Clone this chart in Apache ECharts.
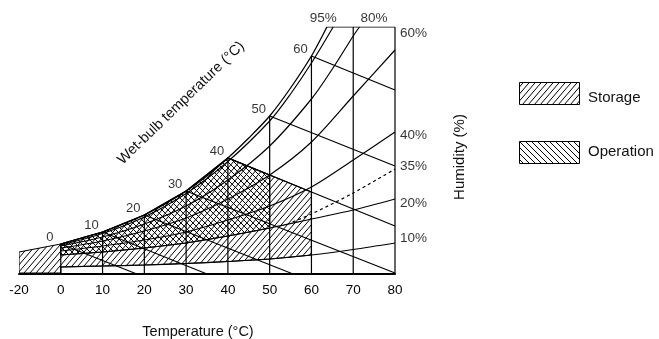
<!DOCTYPE html>
<html><head><meta charset="utf-8">
<script src="https://cdn.jsdelivr.net/npm/echarts@6/dist/echarts.min.js"></script>
<style>html,body{margin:0;padding:0;background:#fff}#c{width:659px;height:339px}</style>
</head><body><div id="c"></div>
<script>
// ---- data (temperature °C, height of humidity scale in chart units) ----
const tempTicks = [-20, 0, 10, 20, 30, 40, 50, 60, 70, 80];
const rh100 = [[0,30],[5,36],[10,42],[15,50],[20,59],[25,70],[30,83],[35,98],[40,116],[45,136],[50,158],[55,186],[60,218],[63.7,247]];
const rh95  = [[0,29],[10,40.5],[20,57],[30,80.5],[40,112.5],[50,153],[55,180],[60,211],[65.2,247]];
const rh80  = [[0,28],[10,37],[20,50],[30,68],[40,94],[50,128],[60,175],[65,205],[70,238],[71.5,247]];
const rh60  = [[0,26],[10,33],[20,43],[30,56],[40,75],[50,99],[60,132],[70,178],[80,224]];
const rh40  = [[0,23],[10,28],[20,34],[30,42],[40,54],[50,68],[60,87],[70,114],[80,142]];
const rh35  = [[55.5,52],[60,60],[70,81],[80,105]];
const rh20  = [[0,19],[10,22],[20,26],[30,31],[40,38],[50,46],[60,55],[70,64],[80,75]];
const rh10  = [[0,7],[10,8],[20,9],[30,10.5],[40,12.5],[50,15],[60,19],[70,24.5],[80,31]];
const wbT    = [0, 10, 20, 30, 40, 50, 60];
const wbH    = [30, 42, 59, 83, 116, 158, 218];
const wbEndT = [18.2, 35, 55.6, 80, 80, 80, 80];
const wbEndH = [0, 0, 0, 1, 48, 108, 184];
const dryT   = [0, 10, 20, 30, 40, 50, 60, 70, 80];
const dryTop = [30, 42, 59, 83, 116, 158, 218, 247, 247];
const topLine = [[63.7,247],[80,247]];
const rhRightLabels = ['60%','40%','35%','20%','10%'];
const rhRightH      = [241, 139, 108, 71, 36];
const rhTopLabels = ['95%','80%'];
const rhTopT      = [62.8, 75];
const storage   = [[-20,1],[-20,22],[0,30],[10,42],[20,59],[30,83],[40,116],[50,99],[60,82],[60,19],[50,15],[40,12.5],[30,10.5],[20,9],[10,8],[0,7],[0,1]];
const operation = [[0,30],[10,42],[20,59],[30,83],[40,116],[50,99],[50,46],[40,38],[30,31],[20,26],[10,22],[0,19]];

// broken axis: -20..0 drawn over one 10-degree step
const ax = t => (t < 0 ? t / 2 : t);
const pts = arr => arr.map(p => [ax(p[0]), p[1]]);

function hatch(w, h, forward) {
  const c = document.createElement('canvas'); c.width = w; c.height = h;
  const g = c.getContext('2d'); g.strokeStyle = '#000'; g.lineWidth = 1;
  for (let k = -1; k <= 1; k++) {
    g.beginPath();
    if (forward) { g.moveTo(k*w, h); g.lineTo(k*w + w, 0); }
    else { g.moveTo(k*w, 0); g.lineTo(k*w + w, h); }
    g.stroke();
  }
  return { image: c, repeat: 'repeat' };
}
const patStore = hatch(6, 7, true);
const patOper  = hatch(6, 6, false);

const FONT = 'Liberation Sans, Arial, Helvetica, sans-serif';
const LC = '#000';

function poly(name, polygon, fill, z) {
  return {
    type: 'custom', name, z, silent: true, data: [0], clip: true,
    renderItem: (params, api) => ({
      type: 'polygon',
      shape: { points: pts(polygon).map(p => api.coord(p)) },
      style: { fill, stroke: '#000', lineWidth: 1.1 }
    })
  };
}
function curve(data, opts) {
  return Object.assign({
    type: 'line', data: pts(data), showSymbol: false, smooth: 0.3, z: 5, silent: true,
    lineStyle: { color: LC, width: 1.2 }
  }, opts || {});
}

const series = [
  poly('Storage', storage, patStore, 1),
  poly('Operation', operation, patOper, 2),
  curve(rh100, { lineStyle: { color: LC, width: 1.3 } }),
  curve(rh95),
  curve(rh80), curve(rh60), curve(rh40), curve(rh20), curve(rh10),
  curve(rh35, { lineStyle: { color: LC, width: 1.2, type: [3, 3] } }),
  curve(topLine, { smooth: false })
];
dryT.forEach((t, i) => series.push(curve([[t, 0], [t, dryTop[i]]], { smooth: false })));
wbT.forEach((t, i) => series.push(curve([[t, wbH[i]], [wbEndT[i], wbEndH[i]]], { smooth: false })));
series.push({
  type: 'scatter', symbolSize: 0, silent: true, clip: false, z: 6,
  data: wbT.map((t, i) => ({ value: [t, wbH[i]], name: String(t) })),
  label: { show: true, position: 'inside', offset: [-11, -7], formatter: p => p.name,
           fontFamily: FONT, fontSize: 13, color: LC }
});
series.push({
  type: 'scatter', symbolSize: 0, silent: true, clip: false, z: 6,
  data: rhRightLabels.map((s, i) => ({ value: [80, rhRightH[i]], name: s })),
  label: { show: true, position: 'right', distance: 5, formatter: p => p.name,
           fontFamily: FONT, fontSize: 13.5, color: LC }
});
series.push({
  type: 'scatter', symbolSize: 0, silent: true, clip: false, z: 6,
  data: rhTopLabels.map((s, i) => ({ value: [rhTopT[i], 256], name: s })),
  label: { show: true, position: 'inside', formatter: p => p.name,
           fontFamily: FONT, fontSize: 13.5, color: LC }
});

const chart = echarts.init(document.getElementById('c'), null, { renderer: 'canvas' });
chart.setOption({
  animation: false,
  backgroundColor: '#fff',
  grid: { left: 19, right: 264, top: 27, bottom: 65 },
  xAxis: {
    type: 'value', min: -10, max: 80, interval: 10,
    axisLine: { lineStyle: { color: '#000', width: 2 } },
    axisTick: { show: false }, splitLine: { show: false },
    axisLabel: { margin: 9, fontFamily: FONT, fontSize: 13.5, color: LC,
      formatter: v => (v < 0 ? String(tempTicks[0]) : String(v)) }
  },
  yAxis: { type: 'value', min: 0, max: 247, show: false },
  graphic: [
    { type: 'text', x: 198, y: 332, style: { text: 'Temperature (°C)', font: '14.5px ' + FONT, fill: '#111', align: 'center', verticalAlign: 'middle' } },
    { type: 'text', x: 181, y: 103, rotation: 44 * Math.PI / 180, style: { text: 'Wet-bulb temperature (°C)', font: '14.5px ' + FONT, fill: '#111', align: 'center', verticalAlign: 'middle' } },
    { type: 'text', x: 460, y: 157, rotation: Math.PI / 2, style: { text: 'Humidity (%)', font: '15px ' + FONT, fill: '#111', align: 'center', verticalAlign: 'middle' } },
    { type: 'rect', shape: { x: 519.5, y: 82.5, width: 60, height: 22 }, style: { fill: patStore, stroke: '#000', lineWidth: 1 } },
    { type: 'rect', shape: { x: 519.5, y: 141.5, width: 60, height: 22 }, style: { fill: patOper, stroke: '#000', lineWidth: 1 } },
    { type: 'text', x: 588, y: 98, style: { text: 'Storage', font: '15px ' + FONT, fill: '#111', verticalAlign: 'middle' } },
    { type: 'text', x: 588, y: 152, style: { text: 'Operation', font: '15px ' + FONT, fill: '#111', verticalAlign: 'middle' } }
  ],
  series
});
</script></body></html>
